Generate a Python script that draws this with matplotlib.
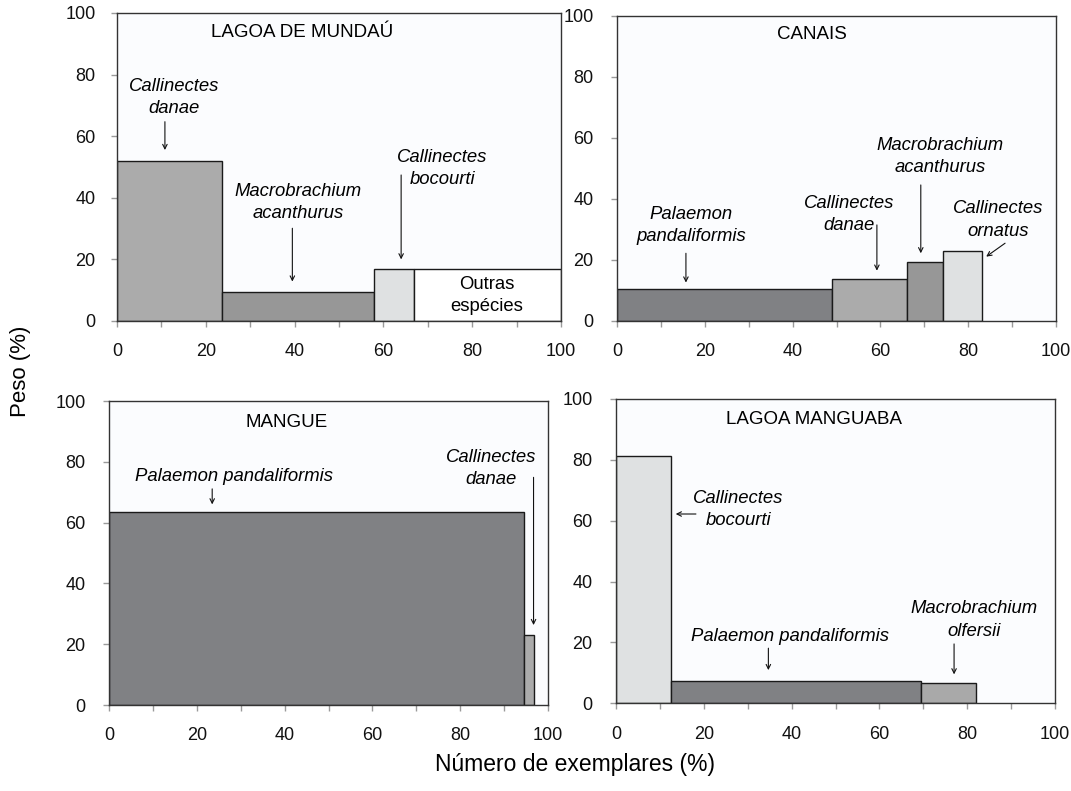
import matplotlib
matplotlib.use("Agg")
import matplotlib.pyplot as plt
from matplotlib.ticker import MultipleLocator

plt.rcParams["font.family"] = ["Liberation Sans", "DejaVu Sans"]

# Lagoa de Mundaú
mundau_especies = ["Callinectes danae", "Macrobrachium acanthurus",
                   "Callinectes bocourti", "Outras espécies"]
mundau_exemplares = [23.7, 34.1, 9.2, 33.0]
mundau_peso = [52.0, 9.3, 16.8, 16.8]

# Canais
canais_especies = ["Palaemon pandaliformis", "Callinectes danae",
                   "Macrobrachium acanthurus", "Callinectes ornatus"]
canais_exemplares = [49.0, 17.0, 8.3, 8.8]
canais_peso = [10.4, 13.7, 19.3, 23.0]

# Mangue
mangue_especies = ["Palaemon pandaliformis", "Callinectes danae"]
mangue_exemplares = [94.5, 2.3]
mangue_peso = [63.4, 22.9]

# Lagoa Manguaba
manguaba_especies = ["Callinectes bocourti", "Palaemon pandaliformis",
                     "Macrobrachium olfersii"]
manguaba_exemplares = [12.6, 56.9, 12.4]
manguaba_peso = [81.3, 7.4, 6.6]

cores = {
    "Callinectes danae": "#ababab",
    "Macrobrachium acanthurus": "#979797",
    "Callinectes bocourti": "#dfe1e2",
    "Callinectes ornatus": "#dfe1e2",
    "Palaemon pandaliformis": "#808184",
    "Macrobrachium olfersii": "#a9a9a9",
    "Outras espécies": "#ffffff",
}

fig = plt.figure(figsize=(10.71, 7.91), dpi=100)
fig.patch.set_facecolor("white")

paineis = [
    ("LAGOA DE MUNDAÚ", mundau_especies, mundau_exemplares, mundau_peso,
     [0.1092, 0.5942, 0.4146, 0.3894], (41.8, 93.5), 11.0),
    ("CANAIS", canais_especies, canais_exemplares, canais_peso,
     [0.5761, 0.5942, 0.4099, 0.3856], (44.3, 93.8), 12.5),
    ("MANGUE", mangue_especies, mangue_exemplares, mangue_peso,
     [0.1018, 0.1087, 0.4099, 0.3843], (40.4, 92.9), 12.5),
    ("LAGOA MANGUABA", manguaba_especies, manguaba_exemplares, manguaba_peso,
     [0.5752, 0.1109, 0.4099, 0.3847], (45.0, 93.1), 12.5),
]

axes = []
for titulo, especies, exemplares, peso, pos, tpos, ypad in paineis:
    ax = fig.add_axes(pos)
    ax.set_facecolor("#fbfcfe")
    esquerda = 0.0
    for esp, w, h in zip(especies, exemplares, peso):
        ax.bar(esquerda, h, width=w, bottom=0, align="edge",
               color=cores[esp], edgecolor="#1a1a1a", linewidth=1.0, zorder=2)
        esquerda += w
    ax.set_xlim(0, 100)
    ax.set_ylim(0, 100)
    ax.xaxis.set_major_locator(MultipleLocator(20))
    ax.xaxis.set_minor_locator(MultipleLocator(10))
    ax.yaxis.set_major_locator(MultipleLocator(20))
    ax.tick_params(axis="both", which="both", direction="out", length=4.5,
                   width=1.0, color="#9a9a9a", labelsize=13,
                   labelcolor="#111111")
    ax.tick_params(axis="x", which="major", pad=11.5)
    ax.tick_params(axis="y", which="major", pad=ypad)
    for s in ax.spines.values():
        s.set_color("#333333")
        s.set_linewidth(1.0)
    ax.text(tpos[0], tpos[1], titulo, ha="center", va="center", fontsize=13.5)
    axes.append(ax)

seta = dict(arrowstyle="->", lw=0.8, color="#111111", mutation_scale=8,
            shrinkA=0, shrinkB=0)
it = dict(fontsize=13.3, style="italic", ha="center", va="center",
          linespacing=1.4)

# Lagoa de Mundaú
ax = axes[0]
ax.text(12.8, 72.6, "Callinectes\ndanae", **it)
ax.annotate("", xy=(10.8, 55.5), xytext=(10.8, 64.7), arrowprops=seta)
ax.text(40.8, 38.5, "Macrobrachium\nacanthurus", **it)
ax.annotate("", xy=(39.5, 12.8), xytext=(39.5, 30.1), arrowprops=seta)
ax.text(73.3, 49.4, "Callinectes\nbocourti", **it)
ax.annotate("", xy=(64.0, 20.0), xytext=(64.0, 47.4), arrowprops=seta)
ax.text(83.2, 8.4, "Outras\nespécies", fontsize=13.3, ha="center",
        va="center", linespacing=1.4, zorder=3)

# Canais
ax = axes[1]
ax.text(16.9, 31.4, "Palaemon\npandaliformis", **it)
ax.annotate("", xy=(15.7, 12.6), xytext=(15.7, 22.2), arrowprops=seta)
ax.text(52.8, 34.8, "Callinectes\ndanae", **it)
ax.annotate("", xy=(59.2, 16.5), xytext=(59.2, 31.5), arrowprops=seta)
ax.text(73.6, 53.8, "Macrobrachium\nacanthurus", **it)
ax.annotate("", xy=(69.2, 22.2), xytext=(69.2, 44.6), arrowprops=seta)
ax.text(86.9, 33.1, "Callinectes\nornatus", **it)
ax.annotate("", xy=(84.1, 21.1), xytext=(88.4, 25.5), arrowprops=seta)

# Mangue
ax = axes[2]
ax.text(28.5, 75.1, "Palaemon pandaliformis", **it)
ax.annotate("", xy=(23.5, 66.0), xytext=(23.5, 71.1), arrowprops=seta)
ax.text(87.0, 77.9, "Callinectes\ndanae", **it)
ax.annotate("", xy=(96.7, 26.3), xytext=(96.7, 74.9), arrowprops=seta)

# Lagoa Manguaba
ax = axes[3]
ax.text(27.9, 63.6, "Callinectes\nbocourti", **it)
ax.annotate("", xy=(13.6, 62.2), xytext=(18.2, 62.2), arrowprops=seta)
ax.text(39.6, 22.1, "Palaemon pandaliformis", **it)
ax.annotate("", xy=(34.7, 10.9), xytext=(34.7, 18.1), arrowprops=seta)
ax.text(81.6, 27.4, "Macrobrachium\nolfersii", **it)
ax.annotate("", xy=(77.0, 9.5), xytext=(77.0, 19.5), arrowprops=seta)

fig.text(0.0187, 0.530, "Peso (%)", rotation=90, ha="center", va="center",
         fontsize=16)
fig.text(0.5366, 0.033, "Número de exemplares (%)", ha="center",
         va="center", fontsize=16.5)

fig.savefig("out.png", dpi=100, facecolor="white")
